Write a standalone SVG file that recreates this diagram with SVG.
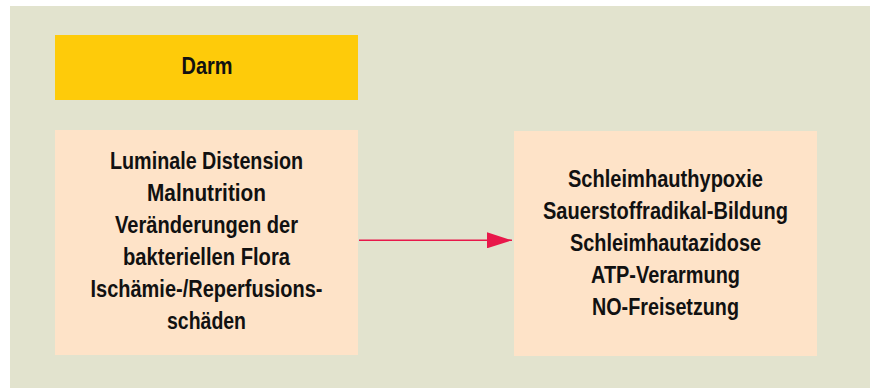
<svg xmlns="http://www.w3.org/2000/svg" width="870" height="388" viewBox="0 0 870 388">
<style>
  .t { font-family: "Liberation Sans", Arial, sans-serif; font-weight: bold; font-size: 23.5px; fill: #111111; text-anchor: middle; }
  .box { fill: #fee3c8; }
  .head { fill: #fecb0a; }
  .conn { stroke: #e8184a; stroke-width: 1.6; fill: none; }
</style>
<defs>
  <marker id="ah" markerUnits="userSpaceOnUse" markerWidth="26" markerHeight="16" refX="25" refY="8" orient="auto">
    <path d="M0,0 L25,8 L0,16 Z" fill="#e8184a"/>
  </marker>
</defs>
<rect x="0" y="0" width="870" height="388" fill="#ffffff"/>
<rect x="10" y="6" width="860" height="382" fill="#e2e3ce"/>

<g id="darm">
  <rect class="head" x="55" y="35" width="303" height="65"/>
  <text class="t" x="207" y="74" textLength="51" lengthAdjust="spacingAndGlyphs">Darm</text>
</g>

<g id="ursachen">
  <rect class="box" x="55" y="130" width="303" height="225"/>
  <text class="t" x="206.5" y="169" textLength="193" lengthAdjust="spacingAndGlyphs">Luminale Distension</text>
  <text class="t" x="206.5" y="201" textLength="119" lengthAdjust="spacingAndGlyphs">Malnutrition</text>
  <text class="t" x="206.5" y="233" textLength="183" lengthAdjust="spacingAndGlyphs">Veränderungen der</text>
  <text class="t" x="206.5" y="265" textLength="167" lengthAdjust="spacingAndGlyphs">bakteriellen Flora</text>
  <text class="t" x="206.5" y="297" textLength="232" lengthAdjust="spacingAndGlyphs">Ischämie-/Reperfusions-</text>
  <text class="t" x="206.5" y="329" textLength="79" lengthAdjust="spacingAndGlyphs">schäden</text>
</g>

<g id="folgen">
  <rect class="box" x="514" y="131" width="303" height="225"/>
  <text class="t" x="665.5" y="187" textLength="195" lengthAdjust="spacingAndGlyphs">Schleimhauthypoxie</text>
  <text class="t" x="665.5" y="219" textLength="245" lengthAdjust="spacingAndGlyphs">Sauerstoffradikal-Bildung</text>
  <text class="t" x="665.5" y="251" textLength="191" lengthAdjust="spacingAndGlyphs">Schleimhautazidose</text>
  <text class="t" x="665.5" y="283" textLength="149" lengthAdjust="spacingAndGlyphs">ATP-Verarmung</text>
  <text class="t" x="665.5" y="315" textLength="147" lengthAdjust="spacingAndGlyphs">NO-Freisetzung</text>
</g>

<g id="connectors">
  <line class="conn" x1="359" y1="240.3" x2="512" y2="240.3" marker-end="url(#ah)"/>
</g>
</svg>
